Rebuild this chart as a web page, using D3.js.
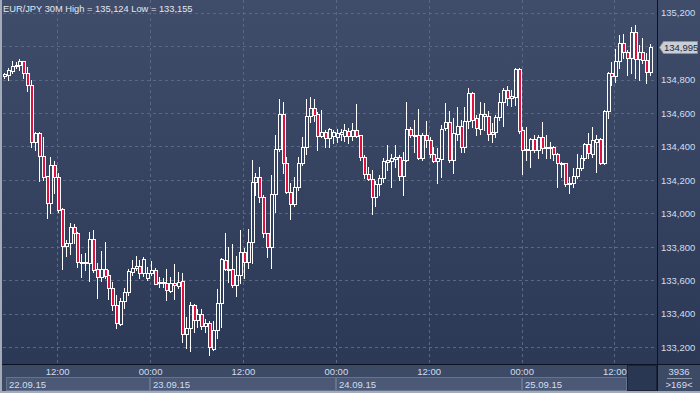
<!DOCTYPE html>
<html>
<head>
<meta charset="utf-8">
<script src="https://cdn.jsdelivr.net/npm/d3@7"></script>
<style>
  body { margin: 0; background: #2c3a57; }
  svg { display: block; font-family: 'Liberation Sans', Arial, sans-serif; }
</style>
</head>
<body>
<script>
// chart meta
const symbol = 'EUR/JPY'
const period = '30M'
const startTime = new Date(2015, 8, 22, 5, 0)
const barSlots = 169
const totalBars = '3936'
const visibleBars = '>169<'

// 30 minute bars
const opens = [
  134.821, 134.827, 134.853, 134.880, 134.886, 134.910, 134.837, 134.767, 134.429, 134.482,
  134.345, 134.224, 134.061, 134.289, 134.216, 134.025, 133.808, 133.822, 133.917, 133.885,
  133.702, 133.702, 133.702, 133.846, 133.667, 133.623, 133.667, 133.631, 133.553, 133.454,
  133.340, 133.480, 133.529, 133.653, 133.673, 133.687, 133.643, 133.613, 133.647, 133.663,
  133.583, 133.585, 133.583, 133.539, 133.583, 133.569, 133.597, 133.279, 133.314, 133.452,
  133.364, 133.398, 133.330, 133.344, 133.191, 133.305, 133.464, 133.722, 133.663, 133.667,
  133.573, 133.633, 133.768, 133.712, 133.832, 134.186, 134.216, 134.101, 133.882, 133.798,
  134.114, 134.383, 134.594, 134.300, 134.130, 134.055, 134.156, 134.300, 134.395, 134.582,
  134.628, 134.594, 134.463, 134.484, 134.448, 134.462, 134.458, 134.472, 134.464, 134.494,
  134.464, 134.498, 134.466, 134.339, 134.235, 134.204, 134.096, 134.174, 134.210, 134.305,
  134.313, 134.327, 134.339, 134.225, 134.319, 134.502, 134.464, 134.468, 134.333, 134.466,
  134.438, 134.353, 134.313, 134.327, 134.508, 134.544, 134.319, 134.472, 134.524, 134.399,
  134.554, 134.717, 134.568, 134.504, 134.594, 134.584, 134.484, 134.484, 134.578, 134.663,
  134.737, 134.687, 134.693, 134.860, 134.498, 134.379, 134.379, 134.443, 134.379, 134.459,
  134.389, 134.389, 134.395, 134.353, 134.295, 134.299, 134.176, 134.180, 134.224, 134.269,
  134.329, 134.415, 134.355, 134.429, 134.445, 134.299, 134.614, 134.841, 134.821, 134.912,
  135.016, 134.962, 134.926, 135.081, 134.920, 134.962, 134.916, 134.843
]
const highs = [
  134.841, 134.867, 134.910, 134.906, 134.920, 134.912, 134.876, 134.797, 134.488, 134.488,
  134.455, 134.224, 134.335, 134.313, 134.240, 134.031, 133.842, 133.945, 133.937, 133.891,
  133.758, 133.762, 133.891, 133.901, 133.702, 133.778, 133.828, 133.663, 133.589, 133.513,
  133.497, 133.553, 133.669, 133.722, 133.746, 133.722, 133.738, 133.682, 133.718, 133.673,
  133.619, 133.613, 133.669, 133.623, 133.698, 133.653, 133.643, 133.384, 133.474, 133.460,
  133.428, 133.428, 133.368, 133.360, 133.360, 133.547, 133.732, 133.882, 133.802, 133.818,
  133.746, 133.902, 133.792, 133.907, 134.319, 134.244, 134.276, 134.110, 133.882, 134.230,
  134.469, 134.682, 134.668, 134.339, 134.180, 134.216, 134.335, 134.455, 134.682, 134.694,
  134.684, 134.608, 134.618, 134.498, 134.512, 134.498, 134.502, 134.504, 134.534, 134.508,
  134.538, 134.653, 134.470, 134.349, 134.275, 134.259, 134.196, 134.230, 134.329, 134.409,
  134.353, 134.409, 134.349, 134.369, 134.667, 134.518, 134.558, 134.623, 134.482, 134.554,
  134.454, 134.395, 134.389, 134.528, 134.657, 134.614, 134.568, 134.633, 134.558, 134.637,
  134.747, 134.727, 134.588, 134.667, 134.660, 134.614, 134.538, 134.588, 134.717, 134.747,
  134.761, 134.737, 134.866, 134.866, 134.514, 134.518, 134.449, 134.468, 134.468, 134.548,
  134.468, 134.429, 134.403, 134.359, 134.309, 134.299, 134.220, 134.269, 134.355, 134.349,
  134.419, 134.478, 134.518, 134.468, 134.449, 134.618, 134.847, 134.906, 134.980, 135.065,
  135.071, 134.976, 135.111, 135.124, 135.006, 135.046, 134.956, 135.012
]
const lows = [
  134.807, 134.797, 134.841, 134.867, 134.857, 134.807, 134.733, 134.395, 134.379, 134.196,
  134.200, 133.975, 134.005, 134.124, 134.011, 133.669, 133.748, 133.758, 133.826, 133.682,
  133.623, 133.663, 133.599, 133.653, 133.494, 133.599, 133.613, 133.488, 133.424, 133.314,
  133.334, 133.434, 133.513, 133.633, 133.663, 133.613, 133.627, 133.603, 133.633, 133.577,
  133.563, 133.563, 133.484, 133.529, 133.488, 133.553, 133.235, 133.195, 133.181, 133.291,
  133.324, 133.310, 133.291, 133.155, 133.185, 133.255, 133.324, 133.663, 133.589, 133.563,
  133.509, 133.583, 133.617, 133.673, 133.706, 134.110, 134.071, 133.862, 133.738, 133.677,
  134.007, 134.373, 134.240, 134.120, 133.965, 134.045, 134.140, 134.290, 134.355, 134.544,
  134.554, 134.379, 134.455, 134.399, 134.395, 134.418, 134.428, 134.438, 134.432, 134.418,
  134.438, 134.458, 134.319, 134.210, 134.200, 133.995, 134.046, 134.110, 134.186, 134.259,
  134.160, 134.275, 134.200, 134.110, 134.315, 134.458, 134.369, 134.325, 134.319, 134.395,
  134.339, 134.309, 134.184, 134.220, 134.498, 134.309, 134.239, 134.438, 134.369, 134.369,
  134.508, 134.514, 134.468, 134.474, 134.500, 134.439, 134.429, 134.458, 134.558, 134.522,
  134.648, 134.642, 134.648, 134.478, 134.236, 134.319, 134.279, 134.369, 134.329, 134.363,
  134.329, 134.329, 134.319, 134.160, 134.220, 134.166, 134.120, 134.160, 134.210, 134.260,
  134.319, 134.329, 134.339, 134.250, 134.293, 134.295, 134.568, 134.767, 134.787, 134.866,
  134.926, 134.827, 134.837, 134.807, 134.797, 134.896, 134.777, 134.827
]
const closes = [
  134.833, 134.857, 134.882, 134.888, 134.910, 134.837, 134.767, 134.429, 134.478, 134.345,
  134.220, 134.061, 134.289, 134.216, 134.021, 133.808, 133.826, 133.917, 133.881, 133.708,
  133.712, 133.712, 133.846, 133.663, 133.623, 133.667, 133.627, 133.553, 133.454, 133.344,
  133.480, 133.529, 133.659, 133.673, 133.687, 133.643, 133.726, 133.643, 133.663, 133.579,
  133.591, 133.593, 133.543, 133.583, 133.573, 133.593, 133.279, 133.314, 133.452, 133.364,
  133.400, 133.330, 133.344, 133.201, 133.305, 133.464, 133.726, 133.667, 133.669, 133.573,
  133.633, 133.768, 133.712, 133.832, 134.186, 134.216, 134.097, 133.882, 133.798, 134.114,
  134.383, 134.594, 134.300, 134.130, 134.055, 134.156, 134.300, 134.395, 134.582, 134.628,
  134.586, 134.463, 134.485, 134.448, 134.502, 134.484, 134.482, 134.488, 134.498, 134.464,
  134.498, 134.462, 134.339, 134.235, 134.204, 134.096, 134.176, 134.214, 134.313, 134.319,
  134.329, 134.339, 134.225, 134.319, 134.502, 134.468, 134.468, 134.333, 134.468, 134.438,
  134.353, 134.313, 134.329, 134.502, 134.548, 134.319, 134.478, 134.522, 134.399, 134.554,
  134.717, 134.558, 134.508, 134.594, 134.580, 134.472, 134.474, 134.578, 134.667, 134.737,
  134.687, 134.701, 134.860, 134.494, 134.379, 134.385, 134.443, 134.379, 134.459, 134.389,
  134.399, 134.399, 134.355, 134.299, 134.299, 134.176, 134.180, 134.224, 134.269, 134.329,
  134.415, 134.359, 134.439, 134.445, 134.299, 134.614, 134.841, 134.821, 134.912, 135.016,
  134.962, 134.926, 135.081, 134.920, 134.962, 134.916, 134.843, 134.995
]

const W = 700
const H = 393
const plot = { left: 3, right: 657, top: 0, bottom: 364 }
const priceTop = 135.263
const priceBottom = 133.101
const colors = {
  bgTop: '#3f4d6b',
  bgBottom: '#2b3956',
  grid: '#5a6884',
  candle: '#ffffff',
  down: '#e0103f',
  text: '#d3ddef',
  axisBg: '#3d4a66',
  frame: '#a3abb8'
}

const bars = opens.map((o, i) => ({
  t: d3.timeMinute.offset(startTime, 30 * i),
  o: o,
  h: highs[i],
  l: lows[i],
  c: closes[i]
}))

const ruLocale = d3.formatLocale({ decimal: ',', thousands: ' ', grouping: [3], currency: ['', ''] })
const fmtPrice = ruLocale.format('.3f')

const svg = d3.select('body').append('svg')
  .attr('width', W)
  .attr('height', H)
  .attr('viewBox', `0 0 ${W} ${H}`)

const defs = svg.append('defs')
const grad = defs.append('linearGradient')
  .attr('id', 'bg')
  .attr('x1', 0).attr('y1', 0).attr('x2', 0).attr('y2', 1)
grad.append('stop').attr('offset', '0%').attr('stop-color', colors.bgTop)
grad.append('stop').attr('offset', '100%').attr('stop-color', colors.bgBottom)

// backgrounds
svg.append('rect')
  .attr('x', 0).attr('y', 0).attr('width', W).attr('height', plot.bottom)
  .attr('fill', 'url(#bg)')
svg.append('rect')
  .attr('x', 0).attr('y', plot.bottom).attr('width', W).attr('height', H - plot.bottom)
  .attr('fill', colors.axisBg)

const x = d3.scaleTime()
  .domain([startTime, d3.timeMinute.offset(startTime, 30 * barSlots)])
  .range([plot.left, plot.right])
const y = d3.scaleLinear()
  .domain([priceBottom, priceTop])
  .range([plot.bottom, 2])
const step = x(bars[1].t) - x(bars[0].t)
const cx = d => Math.round(x(d.t) + step / 2)
const py = v => Math.round(y(v)) + 0.5

// grid
const yTicks = y.ticks(10)
const xTicks = x.ticks(d3.timeHour.every(12))
svg.append('g')
  .selectAll('line')
  .data(yTicks)
  .enter()
  .append('line')
  .attr('x1', plot.left).attr('x2', plot.right)
  .attr('y1', d => py(d)).attr('y2', d => py(d))
  .attr('stroke', colors.grid)
  .attr('stroke-dasharray', '3,3')
svg.append('g')
  .selectAll('line')
  .data(xTicks)
  .enter()
  .append('line')
  .attr('x1', d => Math.round(x(d)) + 0.5).attr('x2', d => Math.round(x(d)) + 0.5)
  .attr('y1', plot.top).attr('y2', plot.bottom)
  .attr('stroke', colors.grid)
  .attr('stroke-dasharray', '3,3')

// candles
const candles = svg.append('g')
  .selectAll('.candle')
  .data(bars)
  .enter()
  .append('g')
  .attr('class', 'candle')
candles.append('line')
  .attr('x1', d => cx(d) - 0.5).attr('x2', d => cx(d) - 0.5)
  .attr('y1', d => Math.round(y(d.h)))
  .attr('y2', d => py(Math.max(d.o, d.c)))
  .attr('stroke', colors.candle)
candles.append('line')
  .attr('x1', d => cx(d) - 0.5).attr('x2', d => cx(d) - 0.5)
  .attr('y1', d => py(Math.min(d.o, d.c)))
  .attr('y2', d => Math.round(y(d.l)) + 1)
  .attr('stroke', colors.candle)
candles.append('rect')
  .attr('x', d => cx(d) - 1.5)
  .attr('width', 3)
  .attr('y', d => py(Math.max(d.o, d.c)))
  .attr('height', d => Math.max(1, py(Math.min(d.o, d.c)) - py(Math.max(d.o, d.c))))
  .attr('fill', d => d.c < d.o ? colors.down : 'none')
  .attr('stroke', colors.candle)

// separators
svg.append('line')
  .attr('x1', plot.right + 0.5).attr('x2', plot.right + 0.5)
  .attr('y1', 0).attr('y2', H)
  .attr('stroke', '#0c1220')
svg.append('line')
  .attr('x1', 0).attr('x2', W)
  .attr('y1', plot.bottom + 0.5).attr('y2', plot.bottom + 0.5)
  .attr('stroke', '#0c1220')

// last price position, the tag hides the axis label under it
const last = bars[bars.length - 1]
const ly = Math.round(y(last.c))

// price axis
const yAxis = svg.append('g')
  .attr('transform', `translate(${plot.right},0)`)
  .call(d3.axisRight(y).tickValues(yTicks.filter(t => Math.abs(y(t) - ly) > 10)).tickSize(0).tickPadding(4).tickFormat(fmtPrice))
yAxis.select('.domain').remove()
yAxis.selectAll('text')
  .attr('fill', colors.text)
  .style('font-size', '9.5px')
  .style('font-family', "'Liberation Sans', Arial, sans-serif")

// time axis
const xAxis = svg.append('g')
  .attr('transform', `translate(0,${plot.bottom})`)
  .call(d3.axisBottom(x).tickValues(xTicks).tickSize(0).tickPadding(4).tickFormat(d3.timeFormat('%H:%M')))
xAxis.select('.domain').remove()
xAxis.selectAll('text')
  .attr('fill', colors.text)
  .style('font-size', '9.5px')
  .style('font-family', "'Liberation Sans', Arial, sans-serif")

// date boxes
const dateEnd = 627
const days = d3.timeDay.range(d3.timeDay.floor(startTime), bars[bars.length - 1].t)
const dayG = svg.append('g')
  .selectAll('g')
  .data(days)
  .enter()
  .append('g')
dayG.append('rect')
  .attr('x', d => Math.max(Math.round(x(d)), 6) + 0.5)
  .attr('y', 377.5)
  .attr('width', d => Math.min(Math.round(x(d3.timeDay.offset(d, 1))), dateEnd) - Math.max(Math.round(x(d)), 6) - 1)
  .attr('height', 13)
  .attr('fill', '#4b5977')
  .attr('stroke', '#66738e')
dayG.append('text')
  .attr('x', d => Math.max(Math.round(x(d)), 6) + 3)
  .attr('y', 388)
  .attr('fill', colors.text)
  .style('font-size', '9.5px')
  .text(d3.timeFormat('%d.%m.%y'))

// dark box at the end of the time scale
svg.append('rect')
  .attr('x', dateEnd + 0.5).attr('y', plot.bottom + 1.5)
  .attr('width', plot.right - dateEnd - 1).attr('height', 25)
  .attr('fill', '#2a3752')
  .attr('stroke', '#1c2538')

// bar counters
svg.append('text')
  .attr('x', 679).attr('y', 375)
  .attr('text-anchor', 'middle')
  .attr('fill', colors.text)
  .style('font-size', '9.5px')
  .text(totalBars)
svg.append('line')
  .attr('x1', 667).attr('x2', 692)
  .attr('y1', 378.5).attr('y2', 378.5)
  .attr('stroke', '#8d97aa')
svg.append('text')
  .attr('x', 679).attr('y', 388)
  .attr('text-anchor', 'middle')
  .attr('fill', colors.text)
  .style('font-size', '9.5px')
  .text(visibleBars)

// last price tag
svg.append('path')
  .attr('d', `M659.5,${ly + 0.5} L663.5,${ly - 5.5} L697.5,${ly - 5.5} L697.5,${ly + 6.5} L663.5,${ly + 6.5} Z`)
  .attr('fill', '#c9cdd4')
  .attr('stroke', '#8a92a2')
svg.append('text')
  .attr('x', 664).attr('y', ly + 4)
  .attr('fill', '#1d2740')
  .style('font-size', '9.5px')
  .text(fmtPrice(last.c))

// title
svg.append('text')
  .attr('x', 3).attr('y', 12)
  .attr('fill', '#e2e8f2')
  .style('font-size', '9.3px')
  .text(`${symbol} ${period}  High = ${fmtPrice(d3.max(highs))} Low = ${fmtPrice(d3.min(lows))}`)

// outer frame
svg.append('rect')
  .attr('x', 0).attr('y', 0).attr('width', 2).attr('height', H)
  .attr('fill', colors.frame)
svg.append('rect')
  .attr('x', 0).attr('y', H - 2).attr('width', W).attr('height', 2)
  .attr('fill', colors.frame)
</script>
</body>
</html>
